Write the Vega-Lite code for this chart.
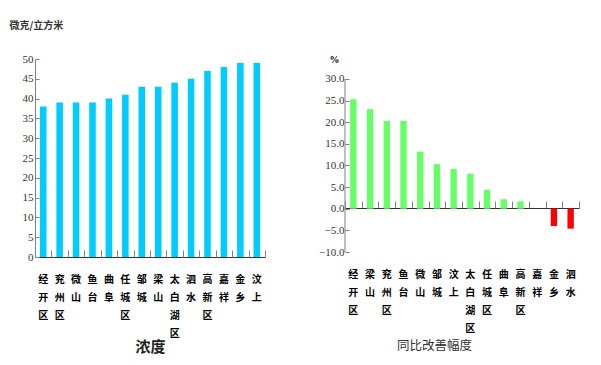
{
  "$schema": "https://vega.github.io/schema/vega-lite/v6.json",
  "background": "white",
  "padding": {"left": 9, "top": 20, "right": 5, "bottom": 5},
  "bounds": "flush",
  "spacing": 80,
  "config": {
    "view": {"stroke": null},
    "axis": {"grid": false, "labelColor": "#333333", "titleColor": "#333333", "labelOverlap": false}
  },
  "datasets": {
    "conc": [
      {"area": "经开区", "value": 38},
      {"area": "兖州区", "value": 39},
      {"area": "微山", "value": 39},
      {"area": "鱼台", "value": 39},
      {"area": "曲阜", "value": 40},
      {"area": "任城区", "value": 41},
      {"area": "邹城", "value": 43},
      {"area": "梁山", "value": 43},
      {"area": "太白湖区", "value": 44},
      {"area": "泗水", "value": 45},
      {"area": "高新区", "value": 47},
      {"area": "嘉祥", "value": 48},
      {"area": "金乡", "value": 49},
      {"area": "汶上", "value": 49}
    ],
    "yoy": [
      {"area": "经开区", "value": 25.3},
      {"area": "梁山", "value": 23.0},
      {"area": "兖州区", "value": 20.3},
      {"area": "鱼台", "value": 20.3},
      {"area": "微山", "value": 13.2},
      {"area": "邹城", "value": 10.3},
      {"area": "汶上", "value": 9.2},
      {"area": "太白湖区", "value": 8.1},
      {"area": "任城区", "value": 4.4},
      {"area": "曲阜", "value": 2.2},
      {"area": "高新区", "value": 1.7},
      {"area": "嘉祥", "value": 0},
      {"area": "金乡", "value": -4.0},
      {"area": "泗水", "value": -4.6}
    ]
  },
  "hconcat": [
    {
      "width": 230,
      "height": 198,
      "data": {"name": "conc"},
      "layer": [
        {
          "mark": {"type": "bar", "color": "#00CCFF", "width": {"band": 0.4}},
          "encoding": {
            "x": {
              "field": "area", "type": "nominal", "sort": null,
              "scale": {"paddingInner": 0, "paddingOuter": 0},
              "axis": {
                "orient": "bottom", "domain": true, "domainColor": "#333333", "ticks": false,
                "labelAngle": 0, "labelExpr": "split(datum.label, '')",
                "labelFont": "Noto Sans CJK SC", "labelFontSize": 10, "labelFontWeight": "bold",
                "labelColor": "#000000", "labelLineHeight": 18.3, "labelBaseline": "top", "labelPadding": 17,
                "title": "浓度", "titleFont": "Noto Sans CJK SC", "titleFontSize": 15, "titleFontWeight": "bold",
                "titleColor": "#222222", "titleY": 89, "titleBaseline": "middle"
              }
            },
            "y": {
              "field": "value", "type": "quantitative",
              "scale": {"domain": [0, 50], "nice": false},
              "axis": {
                "values": [0, 5, 10, 15, 20, 25, 30, 35, 40, 45, 50],
                "domainColor": "#808080", "tickColor": "#808080", "tickSize": -4,
                "labelFont": "Liberation Sans Narrow", "labelFontSize": 11, "labelPadding": 6,
                "title": "微克/立方米", "titleAngle": 0, "titleAlign": "left", "titleBaseline": "middle",
                "titleX": -26, "titleY": -34, "titleFont": "Noto Sans CJK SC", "titleFontSize": 10, "titleFontWeight": "bold"
              }
            }
          }
        },
        {
          "mark": {"type": "bar", "opacity": 0},
          "encoding": {
            "x": {
              "field": "area", "type": "nominal", "sort": null,
              "axis": {
                "orient": "top", "offset": -198, "domain": false, "labels": false,
                "ticks": true, "tickBand": "extent", "tickSize": 7, "tickColor": "#808080", "title": null
              }
            }
          }
        }
      ],
      "resolve": {"axis": {"x": "independent"}}
    },
    {
      "width": 234,
      "height": 193,
      "data": {"name": "yoy"},
      "layer": [
        {
          "mark": {"type": "bar", "width": {"band": 0.38}},
          "encoding": {
            "x": {
              "field": "area", "type": "nominal", "sort": null,
              "scale": {"paddingInner": 0, "paddingOuter": 0},
              "axis": {
                "orient": "bottom", "domain": false, "ticks": false,
                "labelAngle": 0, "labelExpr": "split(datum.label, '')",
                "labelFont": "Noto Sans CJK SC", "labelFontSize": 10, "labelFontWeight": "bold",
                "labelColor": "#000000", "labelLineHeight": 18.3, "labelBaseline": "top", "labelPadding": 17,
                "title": "同比改善幅度", "titleFont": "Noto Sans CJK SC", "titleFontSize": 12.5, "titleFontWeight": "normal",
                "titleColor": "#333333", "titleX": 89, "titleY": 93, "titleBaseline": "middle"
              }
            },
            "y": {
              "field": "value", "type": "quantitative",
              "scale": {"domain": [-10, 34.6], "nice": false, "zero": false},
              "axis": {
                "values": [-10, -5, 0, 5, 10, 15, 20, 25, 30], "format": ".1f", "labelOverlap": false,
                "domain": false, "tickColor": "#808080", "tickSize": -4,
                "labelFont": "Liberation Sans Narrow", "labelFontSize": 11, "labelPadding": 5,
                "title": "%", "titleAngle": 0, "titleAlign": "center", "titleBaseline": "middle",
                "titleX": -11, "titleY": 0, "titleFont": "Liberation Sans Narrow", "titleFontSize": 10, "titleFontWeight": "bold",
                "titleColor": "#000000"
              }
            },
            "color": {
              "condition": {"test": "datum.value < 0", "value": "#FF0000"},
              "value": "#66FF66"
            }
          }
        },
        {
          "data": {"values": [{"k": 1}]},
          "mark": {"type": "rule", "color": "#808080"},
          "encoding": {
            "x": {
              "datum": "经开区", "type": "nominal", "bandPosition": 0,
              "axis": {
                "orient": "top", "offset": -149, "domain": true, "domainColor": "#333333", "labels": false,
                "ticks": true, "tickBand": "extent", "tickSize": 7, "tickColor": "#808080", "title": null
              }
            },
            "y": {
              "datum": -10,
              "axis": {
                "values": [-10, -5, 0, 5, 10, 15, 20, 25, 30], "format": ".1f", "labelOverlap": false,
                "domain": false, "tickColor": "#808080", "tickSize": -4,
                "labelFont": "Liberation Sans Narrow", "labelFontSize": 11, "labelPadding": 5,
                "title": "%", "titleAngle": 0, "titleAlign": "center", "titleBaseline": "middle",
                "titleX": -11, "titleY": 0, "titleFont": "Liberation Sans Narrow", "titleFontSize": 10, "titleFontWeight": "bold",
                "titleColor": "#000000"
              }
            },
            "y2": {"datum": 30}
          }
        }
      ],
      "resolve": {"axis": {"x": "independent"}}
    }
  ]
}
